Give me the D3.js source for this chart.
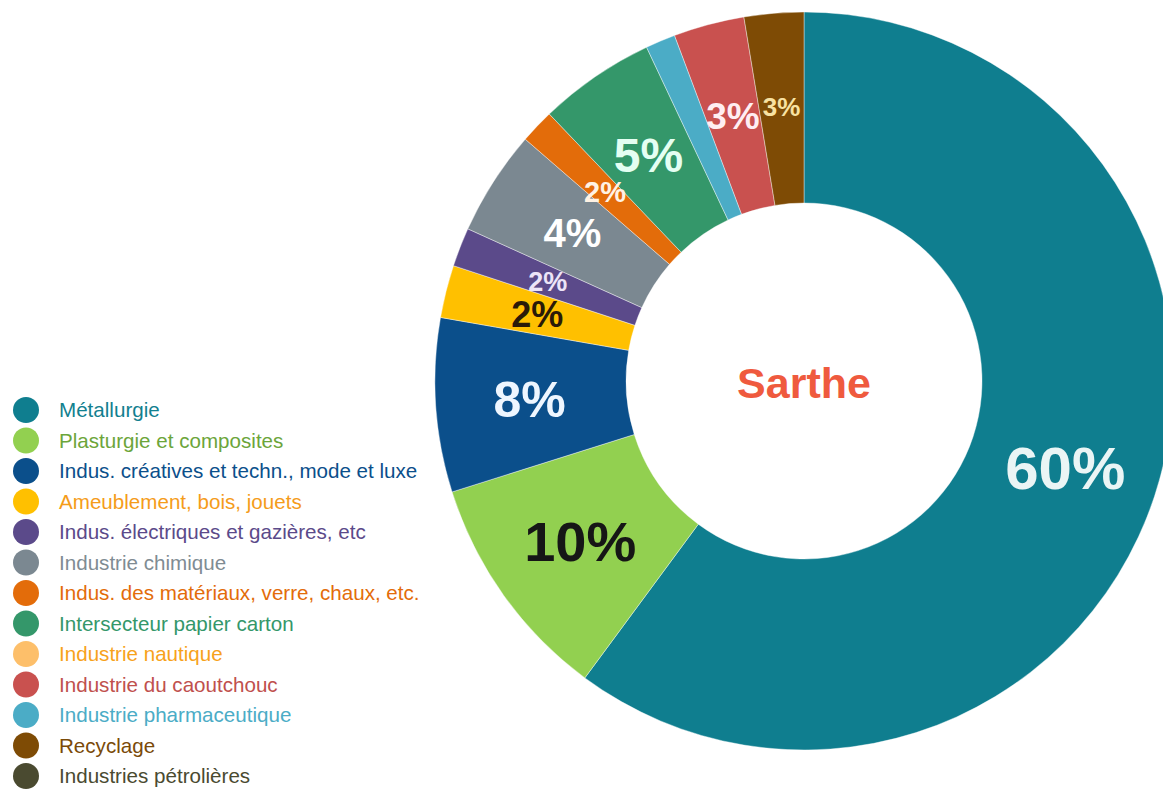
<!DOCTYPE html>
<html>
<head>
<meta charset="utf-8">
<script src="https://cdn.jsdelivr.net/npm/d3@7"></script>
<style>
  body { margin: 0; background: #fff; }
  svg { display: block; }
</style>
</head>
<body>
<div id="chart"></div>
<script>
// Legend order
const sectors = [
  "Métallurgie",
  "Plasturgie et composites",
  "Indus. créatives et techn., mode et luxe",
  "Ameublement, bois, jouets",
  "Indus. électriques et gazières, etc",
  "Industrie chimique",
  "Indus. des matériaux, verre, chaux, etc.",
  "Intersecteur papier carton",
  "Industrie nautique",
  "Industrie du caoutchouc",
  "Industrie pharmaceutique",
  "Recyclage",
  "Industries pétrolières"
];
const shares = [60, 10, 7.6, 2.3, 1.7, 4.6, 1.5, 5.1, 0, 3.1, 1.3, 2.6, 0];
const shareLabels = ["60%", "10%", "8%", "2%", "2%", "4%", "2%", "5%", "", "3%", "", "3%", ""];
const sliceColors = ["#0f7e8f", "#92d050", "#0b4f8b", "#ffc000", "#5b4a8a", "#7b8891",
  "#e36c0a", "#34976a", "#fdbf6a", "#c9514f", "#4bacc6", "#7e4b05", "#4a4a30"];
const legendTextColors = ["#12808f", "#6ca53a", "#0b4f8b", "#f59c1a", "#5b4a8a", "#7f8c93",
  "#e36c0a", "#34976a", "#f7a21b", "#c0504d", "#4bacc6", "#7a4a08", "#4a4a30"];
const labelColors = ["#eaf5f5", "#161616", "#eef6ff", "#2a1a08", "#ece4f8", "#ffffff",
  "#fff2e4", "#e4fff2", "#ffeef2", "#ffeef2", "#ffffff", "#f8e2a2", "#ffffff"];
const labelSizes = [60, 56, 50, 36, 27, 40, 29, 48, 20, 37, 20, 26, 20];
// order of slices clockwise from 12 o'clock
const sliceOrder = [0, 1, 2, 3, 4, 5, 6, 7, 10, 9, 11, 8, 12];

const width = 1163, height = 789;
const cx = 804, cy = 381;
const outerR = 369, innerR = 178;

const svg = d3.select("#chart").append("svg")
  .attr("width", width)
  .attr("height", height);

const data = sectors.map((name, i) => ({
  name, value: shares[i], label: shareLabels[i],
  color: sliceColors[i], labelColor: labelColors[i], size: labelSizes[i], rank: sliceOrder.indexOf(i)
}));

const pie = d3.pie()
  .value(d => d.value)
  .sort((a, b) => a.rank - b.rank);

const arc = d3.arc().innerRadius(innerR).outerRadius(outerR);
const labelArc = d3.arc().innerRadius(275).outerRadius(275);

const g = svg.append("g").attr("transform", `translate(${cx},${cy})`);

const arcs = pie(data).filter(d => d.data.value > 0);

g.selectAll("path")
  .data(arcs)
  .enter().append("path")
  .attr("d", arc)
  .attr("fill", d => d.data.color)
  .attr("stroke", "#ffffff")
  .attr("stroke-opacity", 0.4)
  .attr("stroke-width", 1);

g.selectAll("text.pct")
  .data(arcs.filter(d => d.data.label))
  .enter().append("text")
  .attr("class", "pct")
  .attr("transform", d => `translate(${labelArc.centroid(d)})`)
  .attr("text-anchor", "middle")
  .attr("dy", "0.36em")
  .attr("font-family", "'Liberation Sans', Arial, sans-serif")
  .attr("font-weight", "bold")
  .attr("font-size", d => d.data.size + "px")
  .attr("fill", d => d.data.labelColor)
  .text(d => d.data.label);

// centre title
g.append("text")
  .attr("text-anchor", "middle")
  .attr("dy", "0.36em")
  .attr("y", 2)
  .attr("font-family", "'Liberation Sans', Arial, sans-serif")
  .attr("font-weight", "bold")
  .attr("font-size", "43px")
  .attr("fill", "#ef5a3e")
  .text("Sarthe");

// legend
const legend = svg.append("g").attr("class", "legend");
const items = legend.selectAll("g")
  .data(sectors)
  .enter().append("g")
  .attr("transform", (d, i) => `translate(26,${410 + i * 30.5})`);

items.append("circle")
  .attr("r", 13)
  .attr("fill", (d, i) => sliceColors[i]);

items.append("text")
  .attr("x", 33)
  .attr("dy", "0.36em")
  .attr("font-family", "'Liberation Sans', Arial, sans-serif")
  .attr("font-size", "20.6px")
  .attr("fill", (d, i) => legendTextColors[i])
  .text(d => d);
</script>
</body>
</html>
